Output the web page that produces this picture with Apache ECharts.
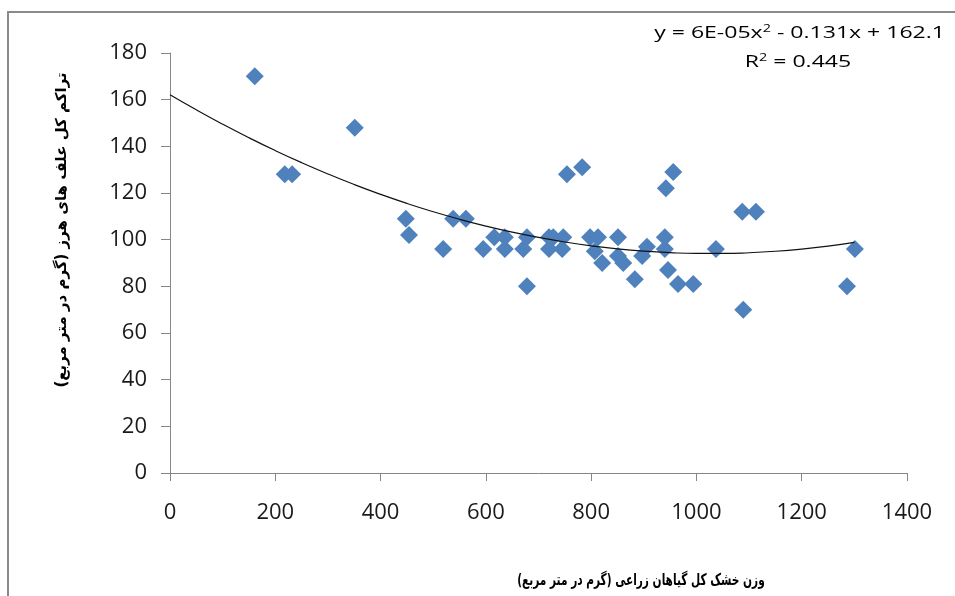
<!DOCTYPE html>
<html>
<head>
<meta charset="utf-8">
<style>
html,body{margin:0;padding:0;background:#fff;}
#chart{width:955px;height:596px;}
</style>
<script src="https://cdn.jsdelivr.net/npm/echarts@6/dist/echarts.min.js"></script>
</head>
<body>
<div id="chart"></div>
<script>
// Data
const xValues = [161, 218, 232, 351, 448, 454, 538, 562, 519, 595, 616, 636, 636, 671, 678, 678,
  720, 720, 728, 747, 745, 754, 783, 798, 813, 807, 821, 851, 851, 861, 883, 897, 906,
  940, 940, 946, 942, 956, 965, 994, 1037, 1087, 1113, 1089, 1301, 1286];
const yValues = [170, 128, 128, 148, 109, 102, 109, 109, 96, 96, 101, 101, 96, 96, 101, 80,
  101, 96, 101, 101, 96, 128, 131, 101, 101, 95, 90, 101, 93, 90, 83, 93, 97,
  101, 96, 87, 122, 129, 81, 81, 96, 112, 112, 70, 96, 80];
// Trendline coefficients (a x^2 + b x + c), tuned to the drawn curve
const trendCoef = [6.45e-5, -0.1325, 162.1];
const trendX = [0, 50, 100, 150, 200, 250, 300, 350, 400, 450, 500, 550, 600, 650, 700, 750,
  800, 850, 900, 950, 1000, 1050, 1100, 1150, 1200, 1250, 1300];
const xTicks = [0, 200, 400, 600, 800, 1000, 1200, 1400];
const yTicks = [0, 20, 40, 60, 80, 100, 120, 140, 160, 180];
const xTitle = 'وزن خشک کل گیاهان زراعی (گرم در متر مربع)';
const yTitle = 'تراکم کل علف های هرز (گرم در متر مربع)';
const eqLine1 = ['y = 6E-05x', '2', ' - 0.131x + 162.1'];
const eqLine2 = ['R', '2', ' = 0.445'];

const points = xValues.map((x, i) => [x, yValues[i]]);
const trend = trendX.map(x => [x, trendCoef[0] * x * x + trendCoef[1] * x + trendCoef[2]]);

const axisColor = '#868686';
const labelFont = {fontFamily: 'Open Sans', fontSize: 22, color: '#1a1a1a'};
const eqRich = {
  a: {fontFamily: 'Open Sans', fontSize: 16, color: '#000'},
  s: {fontFamily: 'Open Sans', fontSize: 10, color: '#000', verticalAlign: 'top', padding: [0, 0, 7, 0]}
};

const chart = echarts.init(document.getElementById('chart'), null, {renderer: 'canvas'});
chart.setOption({
  animation: false,
  backgroundColor: '#fff',
  grid: {left: 170, right: 48, top: 53, bottom: 123, containLabel: false},
  xAxis: {
    type: 'value', min: xTicks[0], max: xTicks[xTicks.length - 1], interval: 200,
    splitLine: {show: false},
    axisLine: {onZero: false, lineStyle: {color: axisColor, width: 1}},
    axisTick: {show: true, inside: false, length: 8, lineStyle: {color: axisColor}},
    axisLabel: Object.assign({margin: 29, formatter: v => String(v)}, labelFont)
  },
  yAxis: {
    type: 'value', min: yTicks[0], max: yTicks[yTicks.length - 1], interval: 20,
    splitLine: {show: false},
    axisLine: {show: true, lineStyle: {color: axisColor, width: 1}},
    axisTick: {show: true, inside: false, length: 9, lineStyle: {color: axisColor}},
    axisLabel: Object.assign({margin: 23, formatter: v => String(v)}, labelFont)
  },
  series: [
    {
      type: 'scatter', data: points, symbol: 'diamond', symbolSize: 18,
      itemStyle: {color: '#4F81BD', opacity: 1}, z: 2
    },
    {
      type: 'line', data: trend, showSymbol: false, smooth: true,
      lineStyle: {color: '#111', width: 1.2}, z: 3, silent: true
    }
  ],
  graphic: [
    {type: 'rect', shape: {x: 8, y: 12, width: 1200, height: 900}, style: {fill: 'none', stroke: '#8a8a8a', lineWidth: 2}, silent: true},
    {type: 'text', x: 62, y: 230, rotation: Math.PI / 2,
      style: {text: yTitle, font: 'bold 15px "DejaVu Sans"', fill: '#000', align: 'center', verticalAlign: 'middle'}},
    {type: 'text', x: 641, y: 581, scaleX: 0.66,
      style: {text: xTitle, font: 'bold 16px "DejaVu Sans"', fill: '#000', align: 'center', verticalAlign: 'middle'}},
    {type: 'text', x: 945, y: 33, scaleX: 1.44,
      style: {
        text: '{a|' + eqLine1[0] + '}{s|' + eqLine1[1] + '}{a|' + eqLine1[2] + '}',
        align: 'right', verticalAlign: 'middle', rich: eqRich
      }},
    {type: 'text', x: 798, y: 62, scaleX: 1.44,
      style: {
        text: '{a|' + eqLine2[0] + '}{s|' + eqLine2[1] + '}{a|' + eqLine2[2] + '}',
        align: 'center', verticalAlign: 'middle', rich: eqRich
      }}
  ]
});
</script>
</body>
</html>
